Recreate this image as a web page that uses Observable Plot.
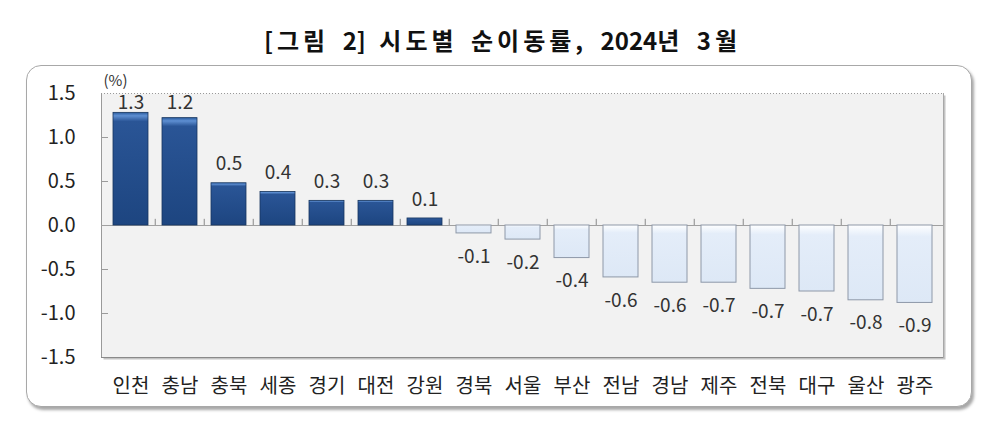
<!DOCTYPE html>
<html><head><meta charset="utf-8">
<script src="https://cdn.jsdelivr.net/npm/d3@7"></script>
<script src="https://cdn.jsdelivr.net/npm/@observablehq/plot@0.6"></script>
<style>
body{margin:0;background:#fff;font-family:"Noto Sans CJK KR",sans-serif;}
#wrap{position:relative;width:1005px;height:424px;overflow:hidden;background:#fff;}
#title{position:absolute;top:22px;left:0;width:1005px;text-align:center;font-size:24px;font-weight:700;letter-spacing:4px;word-spacing:4px;color:#111;line-height:36px;font-family:"Noto Sans CJK KR",sans-serif;}
#title .n{letter-spacing:0;}
#box{position:absolute;left:26px;top:65px;width:944px;height:340px;border:1.5px solid #a8a8a8;border-radius:15px;box-shadow:2px 3px 3px rgba(0,0,0,0.35);background:#fff;}
#chart{position:absolute;left:0;top:65px;}
</style></head><body>
<div id="wrap"><div id="title">[그림 <span class="n">2]</span> 시도별 순이동률, <span class="n">2024</span>년 3월</div><div id="box"></div><div id="chart"></div></div>
<script>
const regions = ["인천","충남","충북","세종","경기","대전","강원","경북","서울","부산","전남","경남","제주","전북","대구","울산","광주"];
const values = [1.28, 1.22, 0.48, 0.38, 0.28, 0.28, 0.08, -0.09, -0.16, -0.37, -0.59, -0.65, -0.65, -0.72, -0.75, -0.85, -0.88];
const labels = ["1.3","1.2","0.5","0.4","0.3","0.3","0.1","-0.1","-0.2","-0.4","-0.6","-0.6","-0.7","-0.7","-0.7","-0.8","-0.9"];
const yTicks = [-1.5, -1.0, -0.5, 0, 0.5, 1.0, 1.5];
const unitLabel = "(%)";

const data = regions.map((r, i) => ({region: r, value: values[i], label: labels[i]}));
const pos = data.filter(d => d.value >= 0);
const neg = data.filter(d => d.value < 0);

const W = 1005, H = 359, mL = 101, mR = 62, mT = 28, mB = 67;
const innerW = W - mL - mR;
const bw = innerW / regions.length;
const font = "'Noto Sans CJK KR', sans-serif";

const plot = Plot.plot({
  width: W, height: H,
  marginLeft: mL, marginRight: mR, marginTop: mT, marginBottom: mB,
  style: {fontFamily: font, background: "transparent", color: "#222", overflow: "visible"},
  x: {domain: regions, padding: 0, label: null},
  y: {domain: [-1.5, 1.5], label: null},
  marks: [
    Plot.frame({fill: "#c4c4c4", dx: 2, dy: 2}),
    Plot.frame({fill: "#f2f2f2"}),
    Plot.frame({anchor: "left", stroke: "#9a9a9a"}),
    Plot.frame({anchor: "bottom", stroke: "#8a8a8a"}),
    Plot.frame({anchor: "right", stroke: "#a8a8a8"}),
    Plot.ruleY([1.5], {stroke: "#999", strokeDasharray: "1,2"}),
    Plot.tickY(yTicks.filter(t => t !== 0 && Math.abs(t) !== 1.5), {y: d => d, stroke: "#9a9a9a", insetRight: innerW - 7}),
    Plot.ruleY([0], {stroke: "#a0a0a0"}),
    Plot.ruleX(regions.slice(1), {x: d => d, y1: 0, y2: 0.07, dx: -bw / 2, stroke: "#8a8a8a"}),
    Plot.barY(pos, {x: "region", y: "value", fill: "url(#gPos)", stroke: "#17365f", strokeWidth: 0.8, insetLeft: 7, insetRight: 7}),
    Plot.barY(neg, {x: "region", y: "value", fill: "url(#gNeg)", stroke: "#8e98a8", strokeWidth: 1, insetLeft: 7, insetRight: 7}),
    Plot.text(pos, {x: "region", y: d => Math.min(d.value, 1.18), text: "label", dy: -19, fontSize: 19, fill: "#333", lineAnchor: "middle"}),
    Plot.text(neg, {x: "region", y: "value", text: "label", dy: 23, fontSize: 19, fill: "#333", lineAnchor: "middle"}),
    Plot.text([unitLabel], {frameAnchor: "top-left", text: d => d, dx: 2, dy: -12, lineAnchor: "middle", fontSize: 15, fill: "#333"}),
    Plot.axisY(yTicks, {tickSize: 0, tickPadding: 26, tickFormat: d => d.toFixed(1), fontSize: 20, fill: "#222", label: null}),
    Plot.axisX({tickSize: 0, tickPadding: 21, fontSize: 20, fill: "#222", label: null})
  ]
});

plot.insertAdjacentHTML("afterbegin", `
<defs>
  <linearGradient id="gPos" x1="0" y1="0" x2="0" y2="1">
    <stop offset="0" stop-color="#2b5c9e"/>
    <stop offset="0.03" stop-color="#5e8fd2"/>
    <stop offset="0.08" stop-color="#2a5596"/>
    <stop offset="1" stop-color="#1d4580"/>
  </linearGradient>
  <linearGradient id="gNeg" x1="0" y1="0" x2="0" y2="1">
    <stop offset="0" stop-color="#ffffff"/>
    <stop offset="0.06" stop-color="#f4f8fd"/>
    <stop offset="0.15" stop-color="#e4edf9"/>
    <stop offset="1" stop-color="#dde8f6"/>
  </linearGradient>
</defs>`);

document.getElementById("chart").appendChild(plot);
</script>
</body></html>
